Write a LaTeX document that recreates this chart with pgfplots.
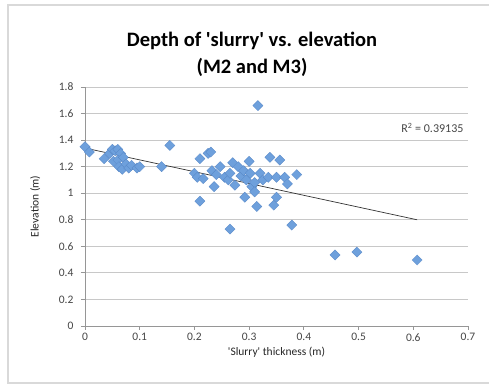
\documentclass[border=0pt]{standalone}
\usepackage{pgfplots}
\pgfplotsset{compat=1.18}
\usepackage{fontspec}
\setmainfont{Carlito}

\definecolor{pt}{RGB}{110,160,220}
\definecolor{ptedge}{RGB}{88,136,200}
\definecolor{gridc}{RGB}{200,200,200}
\definecolor{axc}{RGB}{150,150,150}
\definecolor{txt}{RGB}{70,70,70}

\begin{document}
\begin{tikzpicture}
% page frame
\path[use as bounding box] (-85pt,-61pt) rectangle (404pt,326pt);
\fill[white] (-85pt,-61pt) rectangle (404pt,326pt);
\draw[gray!30, line width=2pt] (-77pt,-57pt) rectangle (420pt,321pt);

\begin{axis}[
    at={(0,0)}, anchor=south west,
    scale only axis,
    width=383pt, height=239pt,
    xmin=0, xmax=0.7, ymin=0, ymax=1.8,
    xtick={0,0.1,...,0.7},
    ytick={0,0.2,...,1.8},
    axis lines*=left,
    axis line style={axc, line width=0.8pt},
    ymajorgrids,
    major grid style={gridc, line width=0.9pt},
    tick align=outside,
    major tick length=4pt,
    tick style={axc, line width=0.8pt},
    tick label style={font=\fontsize{11.5}{13}\selectfont, text=txt},
    yticklabel style={xshift=-4pt},
    /pgf/number format/assume math mode=true,
    xlabel={\textquotesingle Slurry\textquotesingle\ thickness (m)},
    ylabel={Elevation (m)},
    label style={font=\fontsize{11.5}{13}\selectfont, text=black!85},
    xlabel style={at={(axis description cs:0.5,-0.109)}, anchor=center},
    ylabel style={at={(axis description cs:-0.13,0.5)}, anchor=center},
    clip=false,
]
% linear trendline
\addplot[black!80, line width=0.7pt] coordinates {(0,1.34) (0.607,0.80)};

\addplot[only marks, mark=square*, mark size=3.6pt,
         mark options={rotate=45, fill=pt, draw=ptedge, line width=0.3pt}]
coordinates {
(0.000,1.35) (0.008,1.31) (0.035,1.26) (0.045,1.30) (0.050,1.33)
(0.055,1.32) (0.060,1.33) (0.065,1.30) (0.052,1.24) (0.060,1.25)
(0.070,1.27) (0.062,1.20) (0.068,1.18) (0.075,1.22) (0.080,1.19)
(0.085,1.21) (0.095,1.19) (0.100,1.20) (0.140,1.20) (0.155,1.36)
(0.200,1.15) (0.205,1.12) (0.210,1.26) (0.210,0.94) (0.216,1.11)
(0.225,1.30) (0.230,1.31) (0.232,1.17) (0.236,1.05) (0.240,1.14)
(0.247,1.20) (0.255,1.12) (0.262,1.10) (0.265,1.15) (0.265,0.73)
(0.270,1.23) (0.274,1.06) (0.280,1.20) (0.285,1.13) (0.290,1.17)
(0.292,0.97) (0.295,1.10) (0.300,1.24) (0.302,1.15) (0.305,1.05)
(0.310,1.08) (0.310,1.01) (0.314,0.90) (0.316,1.66) (0.320,1.15)
(0.325,1.10) (0.335,1.12) (0.338,1.27) (0.345,0.91) (0.350,0.97)
(0.350,1.12) (0.356,1.25) (0.365,1.12) (0.370,1.07) (0.378,0.76)
(0.387,1.14) (0.457,0.535) (0.497,0.557) (0.607,0.497)
};

\node[font=\fontsize{12}{14}\selectfont, text=txt] at (axis cs:0.635,1.49) {R\textsuperscript{2} = 0.39135};
\end{axis}

% title
\node[font=\fontsize{20.5}{27}\selectfont\bfseries, align=center, anchor=center]
  at (167pt,272pt) {Depth of \textquotesingle slurry\textquotesingle\ vs. elevation\\(M2 and M3)};
\end{tikzpicture}
\end{document}
